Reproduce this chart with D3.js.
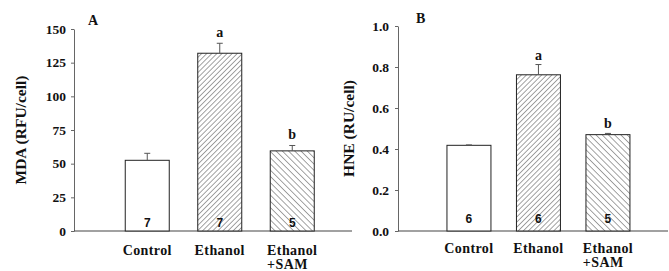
<!DOCTYPE html>
<html lang="en">
  <head>
    <meta charset="utf-8">
    <script src="https://d3js.org/d3.v7.min.js"></script>
    <style>
      body { margin: 0; background: #fff; }
      text { font-family: "Liberation Serif", "Times New Roman", serif; font-weight: bold; fill: #111; }
    </style>
  </head>
  <body>
    <svg width="669" height="271"></svg>
    <script>
      // categories and values
      var categories = ["Control", "Ethanol", "Ethanol +SAM"];
      var mdaMeans = [52.5, 132, 59.5];
      var mdaErrors = [5.2, 7.4, 4];
      var mdaN = [7, 7, 5];
      var mdaSig = ["", "a", "b"];
      var mdaTicks = [0, 25, 50, 75, 100, 125, 150];

      var hneMeans = [0.418, 0.762, 0.47];
      var hneErrors = [0.002, 0.05, 0.006];
      var hneN = [6, 6, 5];
      var hneSig = ["", "a", "b"];
      var hneTicks = [0, 0.2, 0.4, 0.6, 0.8, 1.0];

      var svg = d3.select("svg");
      var fills = ["#fff", "url(#hatchUp)", "url(#hatchDown)"];

      // hatch patterns
      var defs = svg.append("defs");
      function hatch(id, size, angle) {
        var p = defs.append("pattern")
          .attr("id", id)
          .attr("patternUnits", "userSpaceOnUse")
          .attr("width", size).attr("height", size)
          .attr("patternTransform", "rotate(" + angle + ")");
        p.append("rect").attr("width", size).attr("height", size).attr("fill", "#fff");
        p.append("line")
          .attr("x1", 0).attr("y1", 0).attr("x2", 0).attr("y2", size)
          .attr("stroke", "#333").attr("stroke-width", 0.9);
      }
      hatch("hatchUp", 3.6, 45);
      hatch("hatchDown", 4.4, -45);

      function panel(o) {
        var y = d3.scaleLinear().domain(o.domain).range([231, o.top]);
        var x = d3.scaleBand().domain(categories)
          .range(o.band).paddingInner(o.pad).paddingOuter(o.pad / 2);
        var g = svg.append("g");

        // y axis
        var yAxis = d3.axisLeft(y).tickValues(o.ticks).tickSize(3).tickSizeOuter(0)
          .tickFormat(o.fmt);
        var ya = g.append("g").attr("transform", "translate(" + o.x0 + ",0)").call(yAxis);
        ya.select(".domain").attr("stroke", "#666");
        ya.selectAll(".tick line").attr("stroke", "#666");
        ya.selectAll(".tick text")
          .attr("x", -(o.x0 - o.tickEnd))
          .style("font-family", "Liberation Serif, serif")
          .style("font-weight", "bold")
          .style("font-size", "13.5px")
          .attr("fill", "#111");

        // x axis line
        g.append("line")
          .attr("x1", o.x0).attr("x2", o.x1)
          .attr("y1", y(0)).attr("y2", y(0))
          .attr("stroke", "#444").attr("stroke-width", 1.2);

        // bars
        g.selectAll("rect.bar").data(o.means).enter().append("rect")
          .attr("class", "bar")
          .attr("x", function(d, i) { return x(categories[i]); })
          .attr("width", x.bandwidth())
          .attr("y", function(d) { return y(d); })
          .attr("height", function(d) { return y(0) - y(d); })
          .attr("fill", function(d, i) { return fills[i]; })
          .attr("stroke", "#222").attr("stroke-width", 1);

        // error bars (upper only)
        var eb = g.selectAll("g.err").data(o.means).enter().append("g");
        eb.append("line")
          .attr("x1", function(d, i) { return x(categories[i]) + x.bandwidth() / 2; })
          .attr("x2", function(d, i) { return x(categories[i]) + x.bandwidth() / 2; })
          .attr("y1", function(d) { return y(d); })
          .attr("y2", function(d, i) { return y(d + o.errors[i]); })
          .attr("stroke", "#555");
        eb.append("line")
          .attr("x1", function(d, i) { return x(categories[i]) + x.bandwidth() / 2 - 3; })
          .attr("x2", function(d, i) { return x(categories[i]) + x.bandwidth() / 2 + 3; })
          .attr("y1", function(d, i) { return y(d + o.errors[i]); })
          .attr("y2", function(d, i) { return y(d + o.errors[i]); })
          .attr("stroke", "#555");

        // significance letters
        g.selectAll("text.sig").data(o.sig).enter().append("text")
          .attr("x", function(d, i) { return x(categories[i]) + x.bandwidth() / 2; })
          .attr("y", function(d, i) { return y(o.means[i] + o.errors[i]) - o.sigGap; })
          .attr("text-anchor", "middle")
          .style("font-size", "14px")
          .text(function(d) { return d; });

        // n in bars
        g.selectAll("text.n").data(o.n).enter().append("text")
          .attr("x", function(d, i) { return x(categories[i]) + x.bandwidth() / 2; })
          .attr("y", o.nY)
          .attr("text-anchor", "middle")
          .style("font-family", "Liberation Sans, Arial, sans-serif")
          .style("font-size", "12px")
          .text(function(d) { return d; });

        // category labels (second line left-aligned under the first)
        categories.forEach(function(c, i) {
          var lines = c.split(" ");
          var first = g.append("text")
            .attr("x", x(c) + x.bandwidth() / 2)
            .attr("y", o.catY)
            .attr("text-anchor", "middle")
            .style("font-size", "14px")
            .style("letter-spacing", "0.4px")
            .text(lines[0]);
          if (lines.length > 1) {
            var left = x(c) + x.bandwidth() / 2 - first.node().getComputedTextLength() / 2;
            g.append("text")
              .attr("x", left)
              .attr("y", o.catY + 14)
              .style("font-size", "14px")
              .style("letter-spacing", "0.4px")
              .text(lines[1]);
          }
        });

        // y title
        g.append("text")
          .attr("transform", "translate(" + o.titleX + "," + ((y(0) + o.top) / 2) + ") rotate(-90)")
          .attr("text-anchor", "middle")
          .style("font-size", "15.5px")
          .text(o.title);

        // panel letter
        g.append("text")
          .attr("x", o.letterX).attr("y", o.letterY)
          .style("font-size", "14px")
          .text(o.letter);
      }

      panel({
        domain: [0, 150], top: 29, ticks: mdaTicks, fmt: d3.format("d"),
        means: mdaMeans, errors: mdaErrors, n: mdaN, sig: mdaSig,
        x0: 74, x1: 352, tickEnd: 66, band: [111, 328.5], pad: 0.393,
        sigGap: 6, nY: 227, catY: 255, titleX: 26, title: "MDA (RFU/cell)",
        letter: "A", letterX: 88, letterY: 25
      });
      panel({
        domain: [0, 1], top: 26, ticks: hneTicks, fmt: d3.format(".1f"),
        means: hneMeans, errors: hneErrors, n: hneN, sig: hneSig,
        x0: 398, x1: 668, tickEnd: 389, band: [434.2, 642.7], pad: 0.367,
        sigGap: 5, nY: 223, catY: 253, titleX: 354, title: "HNE (RU/cell)",
        letter: "B", letterX: 416, letterY: 23
      });
    </script>
  </body>
</html>
